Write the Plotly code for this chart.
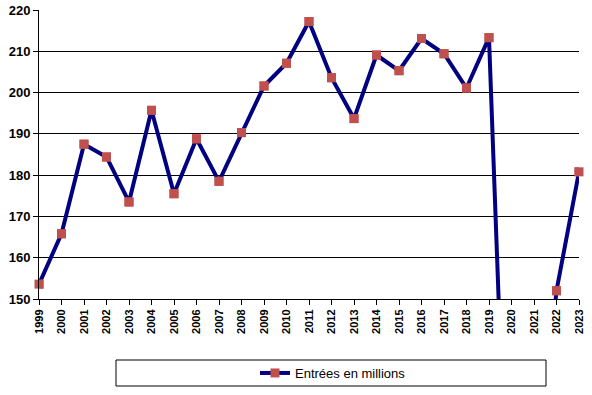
import plotly.graph_objects as go

years = list(range(1999, 2024))
entrees = [153.6, 165.8, 187.5, 184.4, 173.5, 195.7, 175.5, 188.8, 178.5, 190.3,
           201.6, 207.1, 217.2, 203.6, 193.7, 209.1, 205.3, 213.1, 209.4, 201.1,
           213.3, 65.2, 96.2, 152.0, 180.8]
series_name = "Entrées en millions"
y_ticks = [150, 160, 170, 180, 190, 200, 210, 220]
y_min, y_max = 150, 220

font_fam = "Arial, Liberation Sans, sans-serif"

# markers only for values within the visible axis range (drawn unclipped)
visible_markers = [v if y_min <= v <= y_max else None for v in entrees]

fig = go.Figure()
fig.add_trace(go.Scatter(
    x=years, y=entrees, name=series_name, mode="lines+markers",
    line=dict(color="#000080", width=4),
    marker=dict(symbol="square", size=9, color="#C0504D"),
    showlegend=True,
))
fig.add_trace(go.Scatter(
    x=years, y=visible_markers, name=series_name, mode="markers",
    marker=dict(symbol="square", size=9, color="#C0504D"),
    showlegend=False, cliponaxis=False, hoverinfo="skip",
))

fig.update_layout(
    width=592, height=395,
    margin=dict(l=39, r=13, t=10, b=96, autoexpand=False),
    paper_bgcolor="white", plot_bgcolor="white",
    showlegend=True,
    legend=dict(
        orientation="h", x=(333 - 39) / 540, xanchor="center",
        yref="container", y=(395 - 373) / 395, yanchor="middle",
        font=dict(family=font_fam, size=13, color="black"),
        bgcolor="rgba(0,0,0,0)", itemwidth=30,
    ),
    xaxis=dict(
        range=[1999, 2023], tickmode="array", tickvals=years,
        ticktext=["<b>%d</b>" % y for y in years], tickangle=-90,
        tickfont=dict(family=font_fam, size=11, color="black"),
        showgrid=False, zeroline=False, automargin=False,
        showline=True, linecolor="black", linewidth=1,
        ticks="outside", ticklen=5, tickcolor="black",
    ),
    yaxis=dict(
        range=[y_min, y_max], tickmode="array", tickvals=y_ticks,
        ticktext=["<b>%d</b>" % v for v in y_ticks],
        tickfont=dict(family=font_fam, size=13, color="black"),
        showgrid=True, gridcolor="black", gridwidth=1, zeroline=False,
        automargin=False,
        showline=True, linecolor="black", linewidth=1,
        ticks="outside", ticklen=5, tickcolor="black",
    ),
    shapes=[dict(
        type="rect", xref="paper", yref="paper",
        x0=(116 - 39) / 540, x1=(546 - 39) / 540,
        y0=(299 - 386) / 289, y1=(299 - 360) / 289,
        line=dict(color="black", width=1), fillcolor="rgba(0,0,0,0)",
    )],
)

fig.write_html("out.html", config={"displayModeBar": False},
               post_script="document.body.style.margin='0';")
